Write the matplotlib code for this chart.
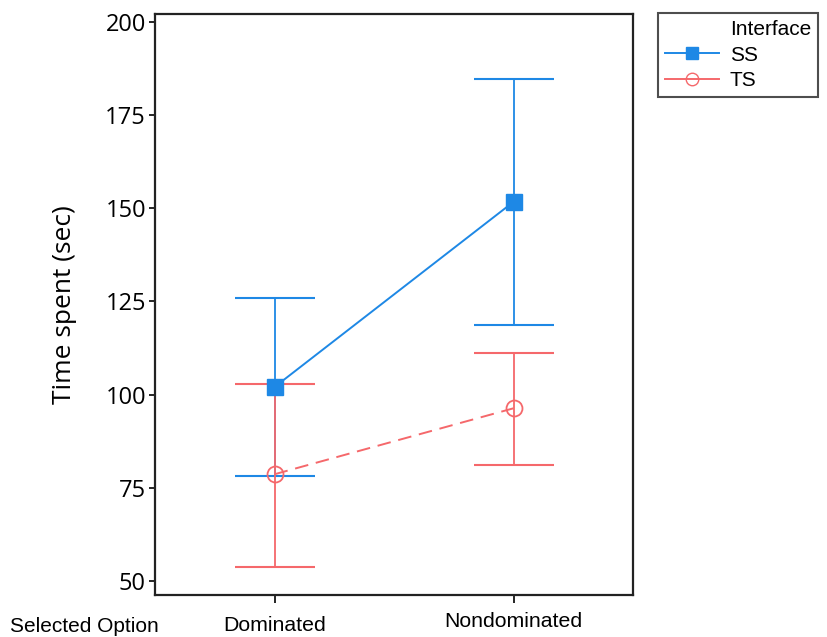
import matplotlib
matplotlib.use("Agg")
import matplotlib.pyplot as plt
from matplotlib.lines import Line2D
import matplotlib.transforms as mtransforms

categories = ["Dominated", "Nondominated"]
ss_mean = [102.0, 151.7]
ss_low = [78.1, 118.7]
ss_high = [125.9, 184.6]
ts_mean = [78.6, 96.3]
ts_low = [53.7, 81.0]
ts_high = [102.9, 111.2]
yticks = [50, 75, 100, 125, 150, 175, 200]

blue = "#1E88E5"
red = "#F5686B"

fig = plt.figure(figsize=(8.28, 6.37), dpi=100)
ax = fig.add_axes([155/828, 1-595/637, (633-155)/828, (595-14)/637])

x = [1, 2]
ss_err = [[m - l for m, l in zip(ss_mean, ss_low)], [h - m for m, h in zip(ss_mean, ss_high)]]
ts_err = [[m - l for m, l in zip(ts_mean, ts_low)], [h - m for m, h in zip(ts_mean, ts_high)]]

ax.errorbar(x, ss_mean, yerr=ss_err, fmt='none', ecolor=blue, elinewidth=1.3,
            capsize=28.8, capthick=1.5, zorder=2)
ax.errorbar(x, ts_mean, yerr=ts_err, fmt='none', ecolor=red, elinewidth=1.3,
            capsize=28.8, capthick=1.5, zorder=3)
ax.plot(x, ss_mean, '-', color=blue, lw=1.4, marker='s', ms=11.5, mfc=blue, mec=blue, zorder=5)
ax.plot(x, ts_mean, '--', color=red, lw=1.4, dashes=(7, 4), marker='o', ms=11.5,
        mfc='none', mec=red, mew=1.3, zorder=4)

ax.set_xlim(0.5, 2.5)
ax.set_ylim(46.2, 202.1)
ax.set_xticks(x)
ax.set_xticklabels(categories, fontsize=15.3, family="Liberation Sans")
ax.set_yticks(yticks)
ax.set_yticklabels([str(t) for t in yticks], fontsize=17, family="Open Sans")
ax.tick_params(axis='y', length=4.5, width=1.2, pad=2)
ax.tick_params(axis='x', length=6, width=1.2, pad=9)
# Nondominated label sits slightly higher in the reference
lab = ax.get_xticklabels()[1]
lab.set_transform(lab.get_transform() + mtransforms.ScaledTranslation(0, 4/100, fig.dpi_scale_trans))
for s in ax.spines.values():
    s.set_linewidth(1.6)
    s.set_color("#222222")
ax.set_ylabel("Time spent (sec)", fontsize=19, family="Open Sans", labelpad=20)

fig.text(10/828, 1-626/637, "Selected Option", fontsize=15, family="Liberation Sans",
         va='center', ha='left')

handles = [Line2D([], [], color='none'),
           Line2D([], [], color=blue, lw=1.4, marker='s', ms=9, mfc=blue, mec=blue),
           Line2D([], [], color=red, lw=1.4, marker='o', ms=9, mfc='none', mec=red)]
labels = ["Interface", "SS", "TS"]
leg = fig.legend(handles, labels, loc='upper left', bbox_to_anchor=(658/828, 1-13/637),
                 prop={'family': 'Liberation Sans', 'size': 15}, frameon=True,
                 fancybox=False, edgecolor='#222222', handlelength=2.6,
                 borderpad=0.35, labelspacing=0.3, handletextpad=0.5, borderaxespad=0)
leg.get_frame().set_linewidth(1.5)

fig.savefig("out.png", dpi=100)
